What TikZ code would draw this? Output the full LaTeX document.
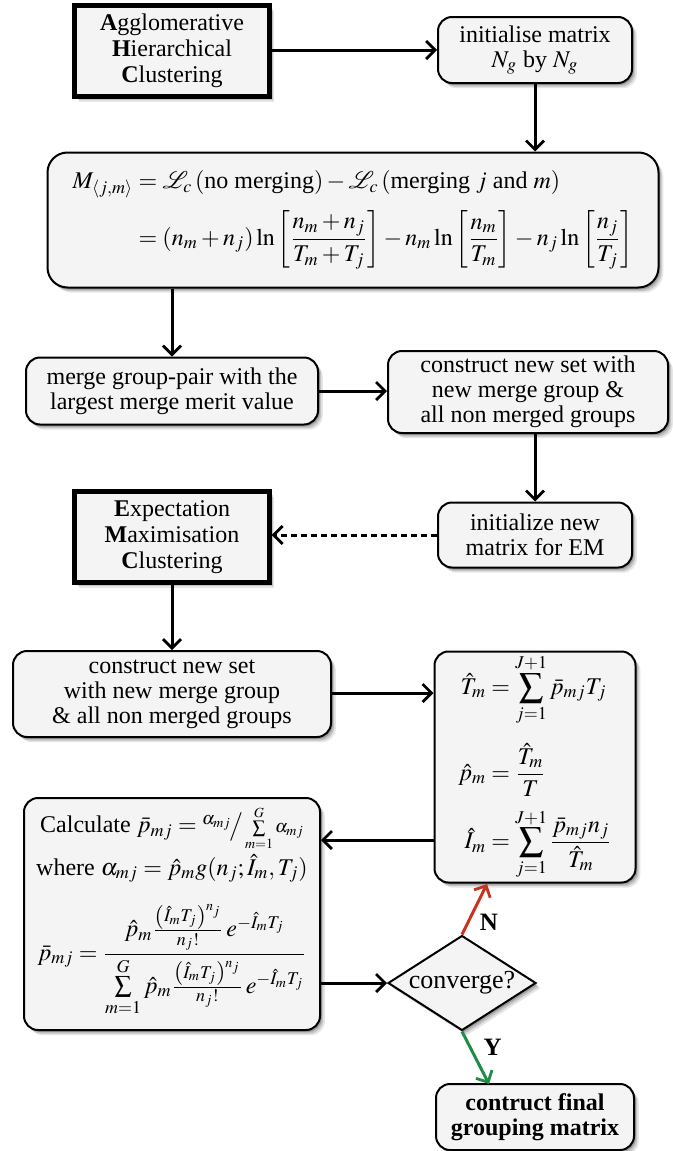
\documentclass[tikz,border=0pt]{standalone}
\usepackage{amsmath}
\usepackage{mathptmx}
\usepackage{mathrsfs}
\usepackage[no-math]{fontspec}
\setmainfont{Liberation Serif}
\usetikzlibrary{shapes.geometric,arrows.meta,shadows}
\definecolor{boxfill}{HTML}{F4F4F4}
\definecolor{nred}{HTML}{C8321E}
\definecolor{ygreen}{HTML}{1E8C46}
\begin{document}
\begin{tikzpicture}[x=0.5pt,y=-0.5pt,
  base/.style={draw, line width=1pt, fill=boxfill, align=center, inner sep=0pt,
    font=\fontsize{12}{12.5}\selectfont,
    drop shadow={shadow xshift=2.4pt, shadow yshift=-2.6pt, opacity=0.10, fill=black},
    drop shadow={shadow xshift=1.6pt, shadow yshift=-1.8pt, opacity=0.15, fill=black},
    drop shadow={shadow xshift=0.9pt, shadow yshift=-1.0pt, opacity=0.2, fill=black}},
  rbox/.style={base, rounded corners=7pt},
  tbox/.style={base, line width=2.1pt, rounded corners=0pt, font=\fontsize{12}{13}\selectfont},
  arr/.style={-{Straight Barb[length=4.5pt,width=9pt,line width=1.4pt]}, line width=1.5pt},
  lab/.style={font=\fontsize{12.5}{12.5}\selectfont\bfseries, inner sep=0pt}
]
\useasboundingbox (0,0) rectangle (673,1151);

\node[tbox, minimum width=97.5pt, minimum height=45.5pt] (ahc) at (172,51)
  {\textbf{A}gglomerative\\\textbf{H}ierarchical\\\textbf{C}lustering};
\node[rbox, minimum width=97pt, minimum height=33pt] (init) at (535,50)
  {initialise matrix\\$N_g$ by $N_g$};
\node[rbox, rounded corners=10pt, minimum width=305.5pt, minimum height=67.5pt] (form) at (353,220)
  {$\begin{aligned}
  M_{\langle j,m\rangle} &= \mathscr{L}_c\,(\text{no merging}) - \mathscr{L}_c\,(\text{merging } j \text{ and } m)\\[2pt]
  &= (n_m+n_j)\ln\left[\dfrac{n_m+n_j}{T_m+T_j}\right] - n_m\ln\left[\dfrac{n_m}{T_m}\right] - n_j\ln\left[\dfrac{n_j}{T_j}\right]
  \end{aligned}$};
\node[rbox, minimum width=146pt, minimum height=33.5pt] (merge) at (172,391)
  {merge group-pair with the\\largest merge merit value};
\node[rbox, minimum width=140pt, minimum height=41pt] (cons1) at (528,392)
  {construct new set with\\new merge group \&\\all non merged groups};
\node[rbox, minimum width=97pt, minimum height=32.5pt] (initem) at (535,535)
  {initialize new\\matrix for EM};
\node[tbox, minimum width=97.5pt, minimum height=45.5pt] (emc) at (172,537)
  {\textbf{E}xpectation\\\textbf{M}aximisation\\\textbf{C}lustering};
\node[rbox, minimum width=159pt, minimum height=43pt] (cons2) at (172,694)
  {construct new set\\with new merge group\\\& all non merged groups};
\node[rbox, minimum width=100.5pt, minimum height=115.5pt] (tb) at (535,767)
  {$\displaystyle\begin{aligned}
  \hat T_m &= \sum_{j=1}^{J+1}\bar p_{mj}T_j\\[5pt]
  \hat p_m &= \frac{\hat T_m}{T}\\[2pt]
  \hat I_m &= \sum_{j=1}^{J+1}\frac{\bar p_{mj}n_j}{\hat T_m}
  \end{aligned}$};
\node[rbox, minimum width=148pt, minimum height=116pt] (calc) at (172,914)
  {Calculate $\bar p_{mj} = {}^{\alpha_{mj}}\!\big/\scriptstyle\sum\limits_{m=1}^{G}\alpha_{mj}$\\[1pt]
   where $\alpha_{mj} = \hat p_m g(n_j;\hat I_m,T_j)$\\[10pt]
   $\displaystyle \bar p_{mj} = \frac{\hat p_m \frac{\left(\hat I_m T_j\right)^{n_j}}{n_j!}\, e^{-\hat I_m T_j}}
     {\sum\limits_{m=1}^{G}\hat p_m \frac{\left(\hat I_m T_j\right)^{n_j}}{n_j!}\, e^{-\hat I_m T_j}}$\\[2pt]};
\node[base, diamond, minimum width=74pt, minimum height=47.5pt] (conv) at (462,983) {};
\node[font=\fontsize{13}{13}\selectfont, inner sep=0pt] (convtext) at (conv.center) {converge?};
\node[rbox, minimum width=99pt, minimum height=33pt, font=\fontsize{12}{12.5}\selectfont\bfseries] (final) at (535,1117)
  {contruct final\\grouping matrix};

\coordinate (back) at (0,840);
\coordinate (nend) at (487,884);
\coordinate (yend) at (489,1084);

\draw[arr] (ahc.east |- init.west) -- (init.west);
\draw[arr] (init.south) -- (init.south |- form.north);
\draw[arr] (form.south -| merge.north) -- (merge.north);
\draw[arr] (merge.east) -- (merge.east -| cons1.west);
\draw[arr] (cons1.south -| initem.north) -- (initem.north);
\draw[arr, dashed, dash pattern=on 3pt off 2pt] (initem.west) -- (initem.west -| emc.east);
\draw[arr] (emc.south) -- (cons2.north);
\draw[arr] (cons2.east |- tb.west) ++(0,-74) coordinate (a1) (cons2.east |- a1) -- (tb.west |- a1);
\draw[arr] (tb.west |- back) -- (calc.east |- back);
\draw[arr] (calc.east |- conv.west) -- (conv.west);
\draw[arr, nred] (conv.north) -- (nend) node[lab, black, pos=0.25, right=5pt] {N};
\draw[arr, ygreen] (conv.south) -- (yend) node[lab, black, pos=0.3, right=6pt] {Y};
\end{tikzpicture}
\end{document}
